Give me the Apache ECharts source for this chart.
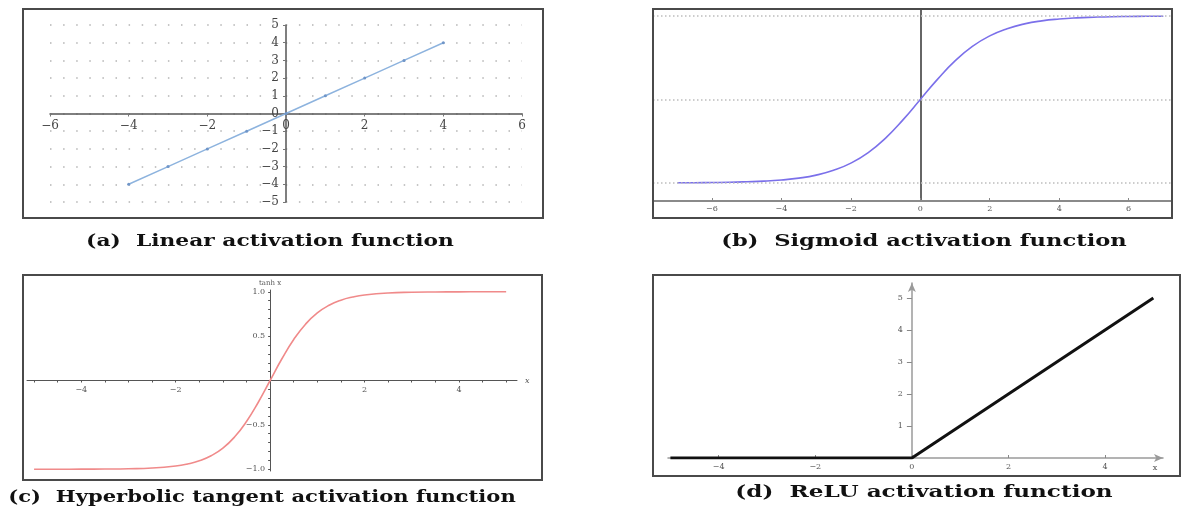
<!DOCTYPE html>
<html>
<head>
<meta charset="utf-8">
<style>html,body{margin:0;padding:0;background:#fff}#c{width:1182px;height:518px}</style>
<script src="https://cdn.jsdelivr.net/npm/echarts@6/dist/echarts.min.js"></script>
</head>
<body>
<div id="c"></div>
<script>
// ---------- data ----------
const captions = [
  '(a)  Linear activation function',
  '(b)  Sigmoid activation function',
  '(c)  Hyperbolic tangent activation function',
  '(d)  ReLU activation function'
];

// (a) linear
const linearX = [-4, -3, -2, -1, 0, 1, 2, 3, 4];
const linearY = [-4, -3, -2, -1, 0, 1, 2, 3, 4];
const linearXTicks = [-6, -4, -2, 0, 2, 4, 6];
const linearYTicks = [-5, -4, -3, -2, -1, 0, 1, 2, 3, 4, 5];

// (b) sigmoid
const sigmoidX = [-7, -6.5, -6, -5.5, -5, -4.5, -4, -3.5, -3, -2.5, -2, -1.5, -1, -0.5, 0,
                  0.5, 1, 1.5, 2, 2.5, 3, 3.5, 4, 4.5, 5, 5.5, 6, 6.5, 7];
const sigmoidY = [0.001, 0.0015, 0.0025, 0.004, 0.007, 0.011, 0.018, 0.029, 0.047, 0.076, 0.119, 0.182, 0.269, 0.378, 0.5,
                  0.622, 0.731, 0.818, 0.881, 0.924, 0.953, 0.971, 0.982, 0.989, 0.993, 0.996, 0.9975, 0.9985, 0.999];
const sigmoidXTicks = [-6, -4, -2, 0, 2, 4, 6];
const sigmoidGridY = [0, 0.5, 1];

// (c) tanh
const tanhX = [-5, -4.5, -4, -3.5, -3, -2.5, -2, -1.75, -1.5, -1.25, -1, -0.75, -0.5, -0.25, 0,
               0.25, 0.5, 0.75, 1, 1.25, 1.5, 1.75, 2, 2.5, 3, 3.5, 4, 4.5, 5];
const tanhY = [-0.9999, -0.9998, -0.999, -0.998, -0.995, -0.987, -0.964, -0.941, -0.905, -0.848, -0.762, -0.635, -0.462, -0.245, 0,
               0.245, 0.462, 0.635, 0.762, 0.848, 0.905, 0.941, 0.964, 0.987, 0.995, 0.998, 0.999, 0.9998, 0.9999];
const tanhXLabels = [-4, -2, 2, 4];
const tanhXTicks = [-5, -4.5, -4, -3.5, -3, -2.5, -2, -1.5, -1, -0.5, 0, 0.5, 1, 1.5, 2, 2.5, 3, 3.5, 4, 4.5, 5];
const tanhYLabels = [-1, -0.5, 0.5, 1];
const tanhYTicks = [-1, -0.9, -0.8, -0.7, -0.6, -0.5, -0.4, -0.3, -0.2, -0.1, 0, 0.1, 0.2, 0.3, 0.4, 0.5, 0.6, 0.7, 0.8, 0.9, 1];

// (d) ReLU
const reluX = [-5, 0, 5];
const reluY = [0, 0, 5];
const reluXTicks = [-4, -2, 0, 2, 4];
const reluYTicks = [1, 2, 3, 4, 5];

// ---------- layout ----------
const G = [
  { left: 50, width: 472, top: 25, height: 177, xMin: -6, xMax: 6, yMin: -5, yMax: 5 },
  { left: 653, width: 519, top: 9, height: 192, xMin: -7.7, xMax: 7.25, yMin: -0.108, yMax: 1.042 },
  { left: 27, width: 490, top: 290, height: 181, xMin: -5.15, xMax: 5.23, yMin: -1.02, yMax: 1.02 },
  { left: 668, width: 495, top: 283, height: 175, xMin: -5.05, xMax: 5.2, yMin: 0, yMax: 5.47 }
];
// offset that puts a y axis on x = 0 / an x axis on y = 0
const yAt0 = g => -((0 - g.xMin) / (g.xMax - g.xMin)) * g.width;
const xAt0 = g => -((0 - g.yMin) / (g.yMax - g.yMin)) * g.height;

// ---------- helpers ----------
const pairs = (xs, ys) => xs.map((x, i) => [x, ys[i]]);
const minus = v => String(v).replace('-', '\u2212');
const serif = '"DejaVu Serif", "Liberation Serif", serif';
const small = { fontFamily: serif, fontSize: 8, color: '#555' };

const chart = echarts.init(document.getElementById('c'), null, { renderer: 'canvas' });

const frame = (x, y, w, h) => ({
  type: 'rect', shape: { x: x, y: y, width: w, height: h }, silent: true, z: 100,
  style: { fill: 'none', stroke: '#4a4a4a', lineWidth: 2 }
});
const caption = (t, x, y, sx) => ({
  type: 'text', x: x, y: y, scaleX: sx, silent: true,
  style: { text: t, align: 'center', verticalAlign: 'middle', font: 'bold 17px ' + serif, fill: '#111' }
});
const gridOf = g => ({ left: g.left, width: g.width, top: g.top, height: g.height, outerBoundsMode: 'none', containLabel: false });

const option = {
  backgroundColor: '#fff',
  animation: false,
  grid: G.map(gridOf),
  xAxis: [
    { gridIndex: 0, type: 'value', min: G[0].xMin, max: G[0].xMax, interval: 2, position: 'bottom', offset: xAt0(G[0]),
      axisLine: { onZero: false, lineStyle: { color: '#555', width: 1.5 } },
      axisTick: { show: true, length: 3, lineStyle: { color: '#777' }, customValues: linearXTicks },
      axisLabel: { customValues: linearXTicks, formatter: minus, fontFamily: serif, fontSize: 12, color: '#444', margin: 6 },
      splitLine: { show: false } },
    { gridIndex: 1, type: 'value', min: G[1].xMin, max: G[1].xMax, position: 'bottom',
      axisLine: { onZero: false, lineStyle: { color: '#8a8a8a', width: 2 } },
      axisTick: { show: true, inside: true, length: 3, lineStyle: { color: '#888' }, customValues: sigmoidXTicks },
      axisLabel: Object.assign({ customValues: sigmoidXTicks, formatter: minus, margin: 4 }, small),
      splitLine: { show: false } },
    { gridIndex: 2, type: 'value', min: G[2].xMin, max: G[2].xMax, position: 'bottom', offset: xAt0(G[2]),
      name: 'x', nameLocation: 'end', nameGap: 8,
      nameTextStyle: { fontFamily: serif, fontSize: 8, fontStyle: 'italic', color: '#555' },
      axisLine: { onZero: false, lineStyle: { color: '#555', width: 1 } },
      axisTick: { show: true, length: 2, lineStyle: { color: '#555' }, customValues: tanhXTicks },
      axisLabel: Object.assign({ customValues: tanhXLabels, formatter: minus, margin: 5 }, small),
      splitLine: { show: false } },
    { gridIndex: 3, type: 'value', min: G[3].xMin, max: G[3].xMax, position: 'bottom',
      name: 'x', nameLocation: 'end', nameGap: -8,
      nameTextStyle: { fontFamily: serif, fontSize: 8, color: '#555', verticalAlign: 'top', align: 'center', padding: [6, 0, 0, 0] },
      axisLine: { onZero: false, lineStyle: { color: '#9a9a9a', width: 1.5 }, symbol: ['none', 'arrow'], symbolSize: [6, 9] },
      axisTick: { show: true, inside: true, length: 3, lineStyle: { color: '#888' }, customValues: reluXTicks },
      axisLabel: Object.assign({ customValues: reluXTicks, formatter: minus, margin: 5 }, small),
      splitLine: { show: false } }
  ],
  yAxis: [
    { gridIndex: 0, type: 'value', min: G[0].yMin, max: G[0].yMax, interval: 1, position: 'left', offset: yAt0(G[0]),
      axisLine: { onZero: false, lineStyle: { color: '#555', width: 1.5 } },
      axisTick: { show: true, length: 3, lineStyle: { color: '#777' }, customValues: linearYTicks },
      axisLabel: { customValues: linearYTicks, formatter: minus, fontFamily: serif, fontSize: 12, color: '#444', margin: 7 },
      splitLine: { show: true, lineStyle: { color: '#b4b4b4', width: 1.5, type: [1.5, 11.6] } } },
    { gridIndex: 1, type: 'value', min: G[1].yMin, max: G[1].yMax, position: 'left', offset: yAt0(G[1]),
      axisLine: { onZero: false, lineStyle: { color: '#333', width: 1.5 } },
      axisTick: { show: false }, axisLabel: { show: false }, splitLine: { show: false } },
    { gridIndex: 2, type: 'value', min: G[2].yMin, max: G[2].yMax, position: 'left', offset: yAt0(G[2]),
      name: 'tanh x', nameLocation: 'end', nameGap: 3,
      nameTextStyle: { fontFamily: serif, fontSize: 7, color: '#555' },
      axisLine: { onZero: false, lineStyle: { color: '#555', width: 1 } },
      axisTick: { show: true, length: 2, lineStyle: { color: '#555' }, customValues: tanhYTicks },
      axisLabel: Object.assign({ customValues: tanhYLabels, formatter: v => minus(Number(v).toFixed(1)), margin: 5 }, small),
      splitLine: { show: false } },
    { gridIndex: 3, type: 'value', min: G[3].yMin, max: G[3].yMax, position: 'left', offset: yAt0(G[3]),
      axisLine: { onZero: false, lineStyle: { color: '#9a9a9a', width: 1.5 }, symbol: ['none', 'arrow'], symbolSize: [6, 9] },
      axisTick: { show: true, length: 5, lineStyle: { color: '#888' }, customValues: reluYTicks },
      axisLabel: Object.assign({ customValues: reluYTicks, margin: 9 }, small),
      splitLine: { show: false } }
  ],
  series: [
    { type: 'line', xAxisIndex: 0, yAxisIndex: 0, data: pairs(linearX, linearY),
      symbol: 'circle', symbolSize: 3, lineStyle: { color: '#8db3de', width: 1.5 }, itemStyle: { color: '#6f95c8' } },
    { type: 'line', xAxisIndex: 1, yAxisIndex: 1, data: pairs(sigmoidX, sigmoidY),
      smooth: true, symbol: 'none', lineStyle: { color: '#7b70ea', width: 1.6 },
      markLine: { silent: true, symbol: ['none', 'none'], label: { show: false },
        lineStyle: { color: '#bdbdbd', width: 1.5, type: [1.5, 2.5] },
        data: sigmoidGridY.map(v => ({ yAxis: v })) } },
    { type: 'line', xAxisIndex: 2, yAxisIndex: 2, data: pairs(tanhX, tanhY),
      smooth: true, symbol: 'none', lineStyle: { color: '#f08a8a', width: 1.6 } },
    { type: 'line', xAxisIndex: 3, yAxisIndex: 3, data: pairs(reluX, reluY),
      symbol: 'none', lineStyle: { color: '#111', width: 3 } }
  ],
  graphic: [
    frame(23, 9, 520, 209),
    frame(653, 9, 519, 209),
    frame(23, 275, 519, 205),
    frame(653, 275, 527, 201),
    caption(captions[0], 270, 242, 1.28),
    caption(captions[1], 924, 242, 1.33),
    caption(captions[2], 262, 498, 1.24),
    caption(captions[3], 924, 493, 1.36)
  ]
};
chart.setOption(option);
</script>
</body>
</html>
